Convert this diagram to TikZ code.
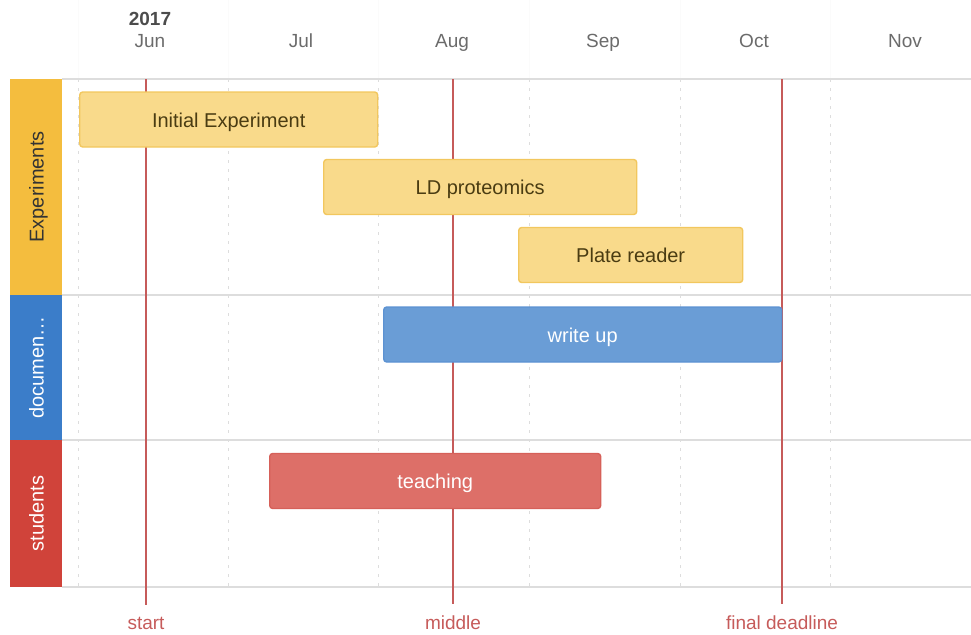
\documentclass[tikz,border=0pt]{standalone}
\usepackage{fontspec}
\setmainfont{Liberation Sans}
\definecolor{expgroup}{HTML}{F4BD3E}
\definecolor{expbar}{HTML}{F9DA8B}
\definecolor{expline}{HTML}{F2C75E}
\definecolor{expfont}{HTML}{4A3C12}
\definecolor{docgroup}{HTML}{3B7DC9}
\definecolor{docbar}{HTML}{6A9DD6}
\definecolor{docline}{HTML}{5C92D2}
\definecolor{stugroup}{HTML}{D0433A}
\definecolor{stubar}{HTML}{DD6F68}
\definecolor{stuline}{HTML}{D66059}
\definecolor{markred}{HTML}{C65B5A}
\definecolor{gridgray}{HTML}{DDDDDD}
\definecolor{monthgray}{HTML}{6B6B6B}
\begin{document}
\begin{tikzpicture}[x=1pt,y=-1pt,
    bar/.style={draw, rounded corners=3pt, line width=1.4pt, anchor=west,
        minimum height=55pt, inner sep=0pt, text height=15pt, text depth=0pt,
        font=\fontsize{20}{24}\selectfont},
    group/.style={rotate=90, minimum height=52pt, inner sep=0pt, text=white,
        text height=15pt, text depth=0pt, font=\fontsize{20}{24}\selectfont},
    month/.style={anchor=base, text=monthgray, font=\fontsize{19}{22}\selectfont},
    marklabel/.style={anchor=base, text=markred, font=\fontsize{19}{22}\selectfont},
    markline/.style={markred, line width=1.6pt}]
    \useasboundingbox (0,0) rectangle (971,634);
    % time axis
    \node[month, font=\bfseries\fontsize{19}{22}\selectfont, text=black!70] (year) at (150,26) {2017};
    \node[month] (jun) at (150,48) {Jun};
    \node[month] (jul) at (301,48) {Jul};
    \node[month] (aug) at (452,48) {Aug};
    \node[month] (sep) at (603,48) {Sep};
    \node[month] (oct) at (754,48) {Oct};
    \node[month] (nov) at (905,48) {Nov};
    \foreach \x in {78,228,378,529,680,830} {
        \draw[black!1.5, line width=1pt] (\x,0) -- (\x,79);
        \draw[gridgray, line width=1pt, dash pattern=on 3pt off 6pt] (\x,79) -- (\x,587);
    }
    % rows
    \foreach \y in {79,295,440,587}
        \draw[gridgray, line width=2pt] (62,\y) -- (971,\y);
    \node[group, fill=expgroup, text=black!80, minimum width=216pt] (experiments) at (36,187) {Experiments};
    \node[group, fill=docgroup, minimum width=145pt] (documents) at (36,367.5) {documen\ldots};
    \node[group, fill=stugroup, minimum width=147pt] (students) at (36,513.5) {students};
    % markers
    \node[marklabel] (start) at (146,629) {start};
    \node[marklabel] (middle) at (453,629) {middle};
    \node[marklabel] (deadline) at (782,629) {final deadline};
    \coordinate (topstart) at (146,79);
    \coordinate (topmiddle) at (453,79);
    \coordinate (topdeadline) at (782,79);
    \draw[markline] (topstart) -- ([yshift=8pt]start.north);
    \draw[markline] (topmiddle) -- ([yshift=8pt]middle.north);
    \draw[markline] (topdeadline) -- ([yshift=8pt]deadline.north);
    % items
    \node[bar, fill=expbar, draw=expline, text=expfont, minimum width=298pt] (initial) at (79,119.5) {Initial Experiment};
    \node[bar, fill=expbar, draw=expline, text=expfont, minimum width=313pt] (ldprot) at (323,187) {LD proteomics};
    \node[bar, fill=expbar, draw=expline, text=expfont, minimum width=224pt] (plate) at (518,255) {Plate reader};
    \node[bar, fill=docbar, draw=docline, text=white, minimum width=398pt] (writeup) at (383,334.5) {write up};
    \node[bar, fill=stubar, draw=stuline, text=white, minimum width=331pt] (teaching) at (269,481) {teaching};
\end{tikzpicture}
\end{document}
